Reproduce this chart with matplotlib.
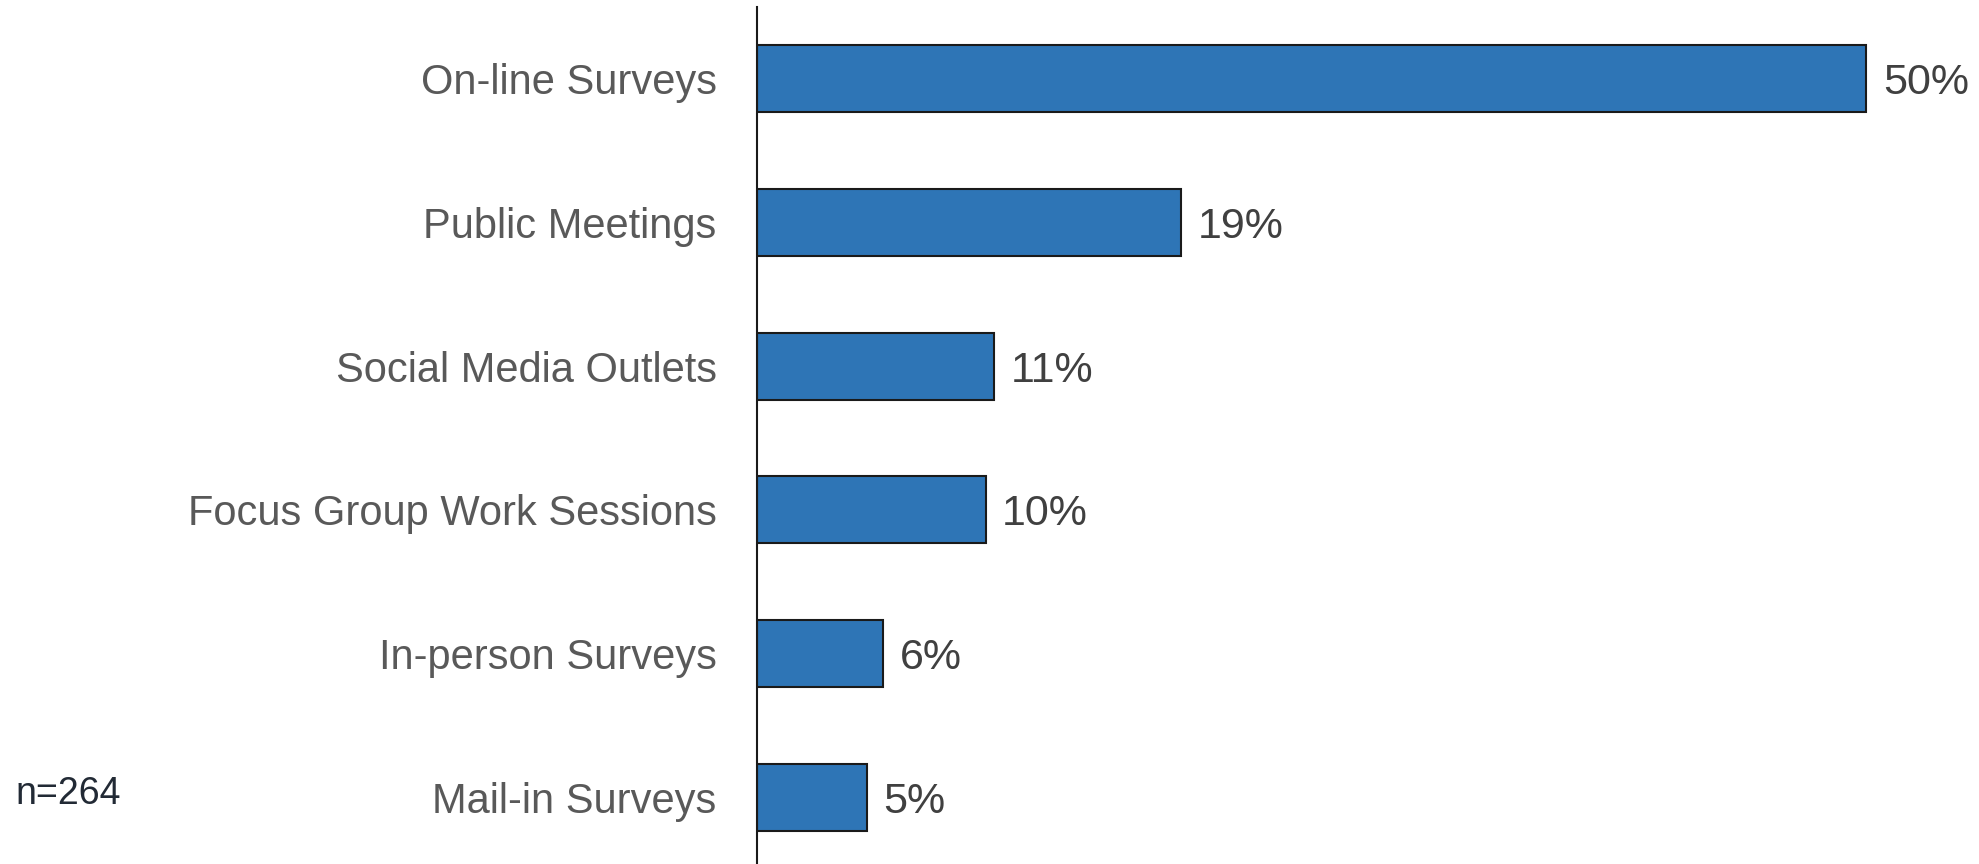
import matplotlib
matplotlib.use("Agg")
import matplotlib.pyplot as plt

categories = ["On-line Surveys", "Public Meetings", "Social Media Outlets",
              "Focus Group Work Sessions", "In-person Surveys", "Mail-in Surveys"]
values = [50, 19.1, 10.7, 10.3, 5.7, 4.95]
value_labels = ["50%", "19%", "11%", "10%", "6%", "5%"]
note = "n=264"

plt.rcParams['font.family'] = ["Liberation Sans", 'DejaVu Sans']

fig = plt.figure(figsize=(19.79, 8.64), dpi=100)
ax = fig.add_axes([757/1979, 0, 1 - 757/1979, 1 - 7/864])

ypos = list(range(len(categories)))
ax.barh(ypos, values, height=0.466, color="#2E75B6", edgecolor="#1a1a1a", linewidth=1.5)
ax.set_ylim(5.464, -0.5)
ax.set_xlim(0, 55.07)
ax.set_yticks(ypos)
ax.set_yticklabels(categories, fontsize=30, color="#595959")
ax.tick_params(axis='y', length=0, pad=29)
ax.set_xticks([])
for s in ["top", "right", "bottom"]:
    ax.spines[s].set_visible(False)
ax.spines["left"].set_color("#1a1a1a")
ax.spines["left"].set_linewidth(1.5)

for y, v, lab in zip(ypos, values, value_labels):
    ax.annotate(lab, (v, y), xytext=(12, -11), textcoords="offset points",
                va="baseline", ha="left", fontsize=31, color="#404040")

fig.text(15/1979, 1 - 804/864, note, fontsize=27, color="#222a35", va="baseline", ha="left")

fig.savefig("out.png", dpi=100)
